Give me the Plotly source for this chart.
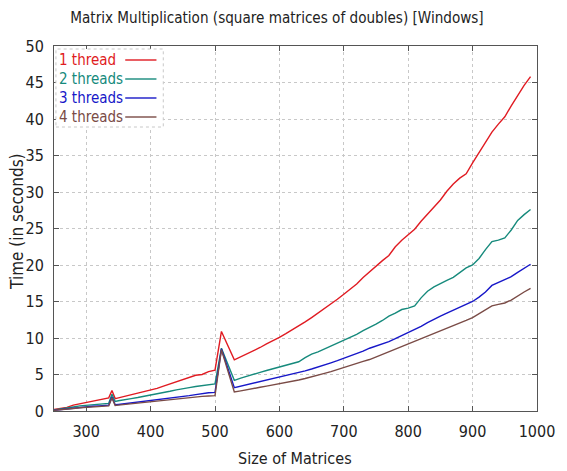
import plotly.graph_objects as go

# Matrix sizes (x values)
sizes = [250, 260, 270, 280, 290, 300, 310, 320, 330, 335, 340, 345, 350,
         360, 370, 380, 390, 400, 410, 420, 430, 440, 450, 460, 470, 480,
         490, 500, 510, 530, 540, 550, 560, 570, 580, 590, 600, 610, 620,
         630, 640, 650, 660, 670, 680, 690, 700, 710, 720, 730, 740, 750,
         760, 770, 780, 790, 800, 810, 820, 830, 840, 850, 860, 870, 880,
         890, 900, 910, 920, 930, 940, 950, 960, 970, 980, 990]

t1 = [0.2, 0.3, 0.5, 0.8, 1.0, 1.1, 1.3, 1.5, 1.7, 1.8, 2.8, 1.7, 1.8,
      2.0, 2.2, 2.5, 2.7, 2.9, 3.1, 3.4, 3.7, 4.0, 4.3, 4.6, 4.9, 5.0,
      5.4, 5.6, 10.9, 7.0, 7.4, 7.8, 8.3, 8.7, 9.2, 9.6, 10.1, 10.6, 11.1,
      11.6, 12.2, 12.8, 13.4, 14.0, 14.7, 15.3, 16.0, 16.7, 17.4, 18.3, 19.1, 19.9,
      20.6, 21.3, 22.5, 23.4, 24.1, 24.9, 26.0, 27.0, 28.0, 28.9, 30.1, 31.1, 31.9,
      32.5, 34.0, 35.4, 36.8, 38.2, 39.3, 40.3, 41.8, 43.3, 44.6, 45.8]

t2 = [0.15, 0.25, 0.4, 0.55, 0.7, 0.8, 0.9, 0.95, 1.0, 1.05, 2.3, 1.3, 1.4,
      1.6, 1.7, 1.85, 2.0, 2.2, 2.35, 2.5, 2.7, 2.9, 3.1, 3.2, 3.35, 3.5,
      3.6, 3.7, 8.6, 4.2, 4.5, 4.8, 5.05, 5.3, 5.55, 5.8, 6.0, 6.2, 6.45,
      6.75, 7.3, 7.8, 8.1, 8.5, 8.9, 9.2, 9.7, 10.1, 10.5, 11.0, 11.4, 11.9,
      12.4, 13.0, 13.4, 13.9, 14.1, 14.4, 15.5, 16.4, 17.0, 17.5, 17.9, 18.3, 18.9,
      19.6, 20.0, 20.9, 22.1, 23.2, 23.4, 23.7, 24.8, 26.1, 26.9, 27.6]

t3 = [0.1, 0.2, 0.3, 0.4, 0.55, 0.6, 0.65, 0.7, 0.75, 0.8, 1.9, 0.85, 0.9,
      1.0, 1.1, 1.2, 1.3, 1.4, 1.5, 1.6, 1.75, 1.9, 2.0, 2.1, 2.25, 2.4,
      2.5, 2.55, 8.5, 3.2, 3.4, 3.6, 3.8, 4.0, 4.2, 4.4, 4.6, 4.85, 5.1,
      5.25, 5.5, 5.75, 6.0, 6.25, 6.6, 6.9, 7.2, 7.5, 7.8, 8.2, 8.6, 8.9,
      9.1, 9.5, 9.9, 10.3, 10.7, 11.1, 11.6, 12.1, 12.6, 13.0, 13.4, 13.8, 14.2,
      14.6, 15.0, 15.6, 16.3, 17.2, 17.6, 17.9, 18.4, 19.0, 19.6, 20.1]

t4 = [0.1, 0.15, 0.25, 0.35, 0.45, 0.5, 0.55, 0.6, 0.65, 0.7, 1.8, 0.75, 0.8,
      0.9, 1.0, 1.05, 1.15, 1.25, 1.3, 1.4, 1.5, 1.6, 1.7, 1.8, 1.9, 2.0,
      2.05, 2.1, 8.4, 2.6, 2.75, 2.95, 3.1, 3.25, 3.4, 3.55, 3.7, 3.85, 4.05,
      4.25, 4.45, 4.65, 4.9, 5.15, 5.4, 5.7, 6.0, 6.25, 6.5, 6.8, 7.05, 7.4,
      7.8, 8.2, 8.5, 8.85, 9.15, 9.5, 9.85, 10.2, 10.6, 10.95, 11.25, 11.6, 12.0,
      12.4, 12.8, 13.3, 13.9, 14.4, 14.6, 14.8, 15.2, 15.8, 16.3, 16.8]

series_names = ["1 thread", "2 threads", "3 threads", "4 threads"]
series_colors = ["#e01b22", "#168a7c", "#1717c8", "#7a4b46"]
series_values = [t1, t2, t3, t4]

x_ticks = [300, 400, 500, 600, 700, 800, 900, 1000]
y_ticks = [0, 5, 10, 15, 20, 25, 30, 35, 40, 45, 50]

FONT = "DejaVu Sans Condensed, Liberation Sans, Arial, sans-serif"
AXIS = "#555555"
GRID = "#c8c8c8"

fig = go.Figure()
for name, col, vals in zip(series_names, series_colors, series_values):
    fig.add_trace(go.Scatter(x=sizes, y=vals, mode="lines", name=name,
                             line=dict(color=col, width=1.4),
                             showlegend=False))

L, R, T, B = 54, 18, 46, 60
W, H = 567, 471
pw, ph = W - L - R, H - T - B

def px(xp):
    return (xp - L) / pw

def py(yp):
    return (H - B - yp) / ph

# legend box (gnuplot style: text then sample line)
shapes = [dict(type="rect", xref="paper", yref="paper",
               x0=px(56), x1=px(166), y0=py(127), y1=py(49),
               fillcolor="white", line=dict(color="#c8c8c8", width=1, dash="dot"),
               layer="above")]
annotations = []
rows = [60, 79, 98, 117]
for name, col, ry in zip(series_names, series_colors, rows):
    shapes.append(dict(type="line", xref="paper", yref="paper",
                       x0=px(127), x1=px(159), y0=py(ry), y1=py(ry),
                       line=dict(color=col, width=1.4), layer="above"))
    annotations.append(dict(text=name, xref="paper", yref="paper",
                            x=px(57), y=py(ry), xanchor="left", yanchor="middle",
                            showarrow=False, font=dict(family=FONT, size=15, color=col)))

annotations.append(dict(text="Size of Matrices", xref="paper", yref="paper",
                        x=px(301), y=py(459), xanchor="center", yanchor="middle",
                        showarrow=False, font=dict(family=FONT, size=16, color="#222")))
annotations.append(dict(text="Time (in seconds)", xref="paper", yref="paper",
                        x=px(16), y=py(221), xanchor="center", yanchor="middle",
                        textangle=-90,
                        showarrow=False, font=dict(family=FONT, size=17, color="#222")))

fig.update_layout(
    width=W, height=H,
    margin=dict(l=L, r=R, t=T, b=B, pad=0),
    paper_bgcolor="white", plot_bgcolor="white",
    title=dict(text="Matrix Multiplication (square matrices of doubles) [Windows]",
               x=277 / W, xref="container", xanchor="center",
               y=1 - 18 / H, yref="container", yanchor="middle",
               font=dict(family=FONT, size=15.1, color="#222")),
    font=dict(family=FONT, color="#222"),
    shapes=shapes,
    annotations=annotations,
    showlegend=False,
)
fig.update_xaxes(range=[250, 1000], tickvals=x_ticks, ticktext=[str(v) for v in x_ticks],
                 showgrid=True, gridcolor=GRID, griddash="dot", gridwidth=1,
                 showline=True, linecolor=AXIS, linewidth=1, mirror="allticks",
                 ticks="inside", ticklen=5, tickcolor=AXIS, zeroline=False,
                 ticklabeloverflow="allow",
                 ticklabelstandoff=6, tickfont=dict(family=FONT, size=16, color="#222"))
fig.update_yaxes(range=[0, 50], tickvals=y_ticks, ticktext=[str(v) for v in y_ticks],
                 showgrid=True, gridcolor=GRID, griddash="dot", gridwidth=1,
                 showline=True, linecolor=AXIS, linewidth=1, mirror="allticks",
                 ticks="inside", ticklen=5, tickcolor=AXIS, zeroline=False,
                 ticklabeloverflow="allow",
                 ticklabelstandoff=6, tickfont=dict(family=FONT, size=16, color="#222"))

fig.write_html("out.html")
